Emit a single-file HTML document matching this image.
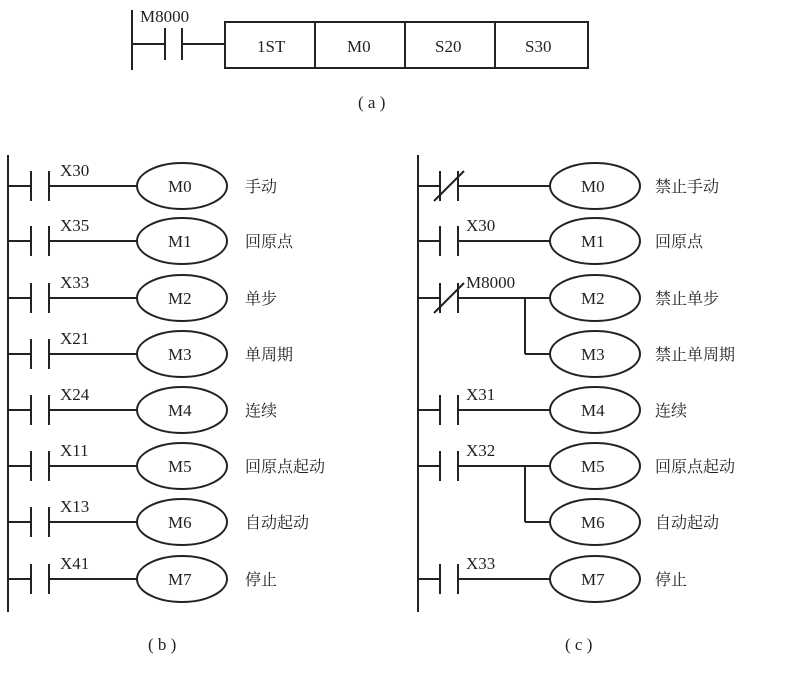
<!DOCTYPE html><html><head><meta charset="utf-8"><style>body{margin:0;background:#fff}svg{display:block}</style></head><body>
<svg width="800" height="682" xmlns="http://www.w3.org/2000/svg" font-family="Liberation Serif, Noto Serif CJK SC, serif" fill="#222" stroke="#222">
<g stroke-width="2" fill="none">
<line x1="132" y1="10" x2="132" y2="70"/><line x1="132" y1="44" x2="165" y2="44"/>
<line x1="165" y1="28" x2="165" y2="60"/><line x1="182" y1="28" x2="182" y2="60"/><line x1="182" y1="44" x2="225" y2="44"/>
<rect x="225" y="22" width="363" height="46"/><line x1="315" y1="22" x2="315" y2="68"/><line x1="405" y1="22" x2="405" y2="68"/><line x1="495" y1="22" x2="495" y2="68"/>
<line x1="8" y1="155" x2="8" y2="612"/><line x1="418" y1="155" x2="418" y2="612"/>
</g>
<g font-size="17" stroke="none">
<text x="140" y="22">M8000</text>
<text x="257" y="52">1ST</text><text x="347" y="52">M0</text><text x="435" y="52">S20</text><text x="525" y="52">S30</text>
<text x="358" y="108">( a )</text><text x="148" y="650">( b )</text><text x="565" y="650">( c )</text>
</g>
<g id="b"></g>
<script>
var s='http://www.w3.org/2000/svg',svg=document.querySelector('svg');
function el(t,a,txt){var e=document.createElementNS(s,t);for(var k in a)e.setAttribute(k,a[k]);if(txt)e.textContent=txt;svg.appendChild(e);return e}
function L(a,b,c,d){el('line',{x1:a,y1:b,x2:c,y2:d,'stroke-width':2})}
function T(x,y,t,sz){el('text',{x:x,y:y,stroke:'none','font-size':sz||17},t)}
function coil(cx,y,t){el('ellipse',{cx:cx,cy:y,rx:45,ry:23,fill:'none','stroke-width':2});T(cx-14,y+6,t)}
var ys=[186,241,298,354,410,466,522,579];
var bx=['X30','X35','X33','X21','X24','X11','X13','X41'],bl=['手动','回原点','单步','单周期','连续','回原点起动','自动起动','停止'];
ys.forEach(function(y,i){L(8,y,31,y);L(31,y-15,31,y+15);L(49,y-15,49,y+15);L(49,y,137,y);T(60,y-10,bx[i]);coil(182,y,'M'+i);T(245,y+6,bl[i],16)});
var cl=['禁止手动','回原点','禁止单步','禁止单周期','连续','回原点起动','自动起动','停止'];
var cc=[['nc',''],['no','X30'],['nc','M8000'],null,['no','X31'],['no','X32'],null,['no','X33']];
ys.forEach(function(y,i){var c=cc[i];if(c){L(418,y,440,y);L(440,y-15,440,y+15);L(458,y-15,458,y+15);L(458,y,550,y);if(c[0]=='nc')L(434,y+15,464,y-15);if(c[1])T(466,y-10,c[1])}
coil(595,y,'M'+i);T(655,y+6,cl[i],16)});
L(525,298,525,354);L(525,354,550,354);L(525,466,525,522);L(525,522,550,522);
</script>
</svg></body></html>
